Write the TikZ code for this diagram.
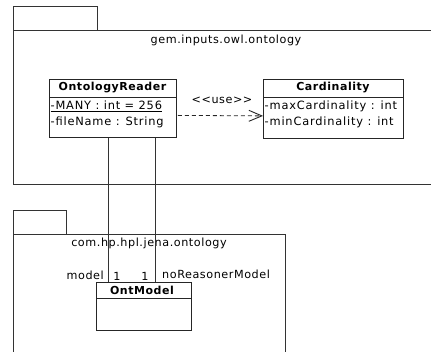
\documentclass[tikz,border=0pt]{standalone}
\usepackage{fontspec}
\setmainfont{DejaVu Sans}[LetterSpace=5]
\usetikzlibrary{arrows.meta}
\begin{document}
\begin{tikzpicture}[x=1pt,y=-1pt,
  pkg/.style={draw=black!80, line width=0.8pt},
  classbox/.style={draw=black!85, line width=0.8pt, fill=white, minimum width=#1, inner sep=0pt, anchor=north west},
  ttl/.style={font=\fontsize{11}{13}\selectfont\bfseries},
  attr/.style={font=\fontsize{11.4}{13}\selectfont\addfontfeatures{LetterSpace=7}, anchor=west, inner sep=0pt},
  lbl/.style={font=\fontsize{11.2}{13}\selectfont, inner sep=0pt},
  assoc/.style={draw=black!80, line width=0.8pt}]
\useasboundingbox (0,0) rectangle (431,352);
\fill[white] (0,0) rectangle (431,352);

% package gem.inputs.owl.ontology
\draw[pkg] (13,30) -- (13,6) -- (97,6) -- (97,30);
\draw[pkg] (440,30) -- (13,30) -- (13,184) -- (440,184);
\node[lbl] (pkgA) at (226,40) {gem.inputs.owl.ontology};

% package com.hp.hpl.jena.ontology
\draw[pkg] (13,234) -- (13,210) -- (66,210) -- (66,234);
\draw[pkg] (13,360) -- (13,234) -- (285,234) -- (285,360);
\node[lbl] (pkgB) at (149,243) {com.hp.hpl.jena.ontology};

% class OntologyReader
\node[classbox=127pt, minimum height=58pt] (reader) at (49,79) {};
\draw[black!85, line width=0.8pt] (49,97) -- (176,97);
\node[ttl] (readerT) at (112.5,88) {OntologyReader};
\node[attr] (rA) at (50.5,106.5) {\underline{-MANY : int = 256}};
\node[attr] (rB) at (50.5,122) {-fileName : String};

% class Cardinality
\node[classbox=140pt, minimum height=59pt] (card) at (263,79) {};
\draw[black!85, line width=0.8pt] (263,97) -- (403,97);
\node[ttl] (cardT) at (333,88) {Cardinality};
\node[attr] (cA) at (264.5,106.5) {-maxCardinality : int};
\node[attr] (cB) at (264.5,122) {-minCardinality : int};

% class OntModel
\node[classbox=95pt, minimum height=48pt] (ont) at (96,282) {};
\draw[black!85, line width=0.8pt] (96,298) -- (191,298);
\node[ttl] (ontT) at (142,290) {OntModel};

% dependency
\draw[draw=black!85, line width=0.8pt, dash pattern=on 4pt off 3pt,
  -{Straight Barb[length=13pt,width=11pt,line width=0.9pt]}]
  ([xshift=1pt,yshift=-7pt]reader.east) -- ([yshift=-7pt]card.west);
\node[lbl] (use) at (222,100) {<{}<use>{}>};

% associations
\draw[assoc] ([xshift=-4.5pt]reader.south) -- ([xshift=-35.5pt]ont.north);
\draw[assoc] ([xshift=42.5pt]reader.south) -- ([xshift=11.5pt]ont.north);
\node[lbl, anchor=east] (m1) at (104,275) {model};
\node[lbl] (n1) at (117,276) {1};
\node[lbl] (n2) at (145,276) {1};
\node[lbl, anchor=west] (m2) at (162,274) {noReasonerModel};
\end{tikzpicture}
\end{document}
